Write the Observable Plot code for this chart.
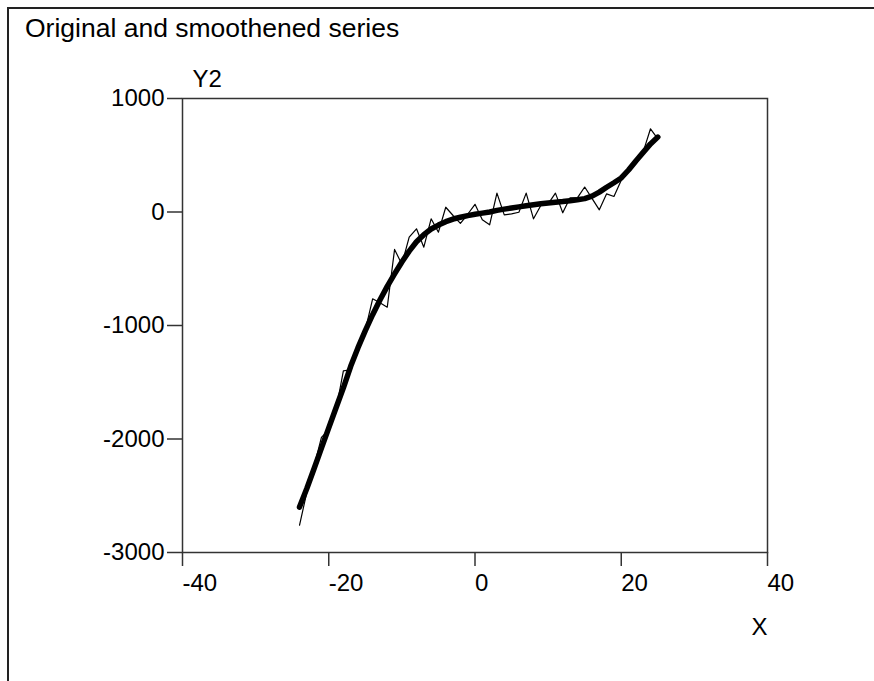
<!DOCTYPE html>
<html>
<head>
<meta charset="utf-8">
<script src="https://cdn.jsdelivr.net/npm/d3@7"></script>
<script src="https://cdn.jsdelivr.net/npm/@observablehq/plot@0.6"></script>
<style>
  html, body { margin: 0; padding: 0; background: #fff; }
  #wrap { position: relative; width: 874px; height: 681px; overflow: hidden; background: #fff; }
  #border { position: absolute; left: 7px; top: 7px; width: 1000px; height: 1000px;
            border-left: 2px solid #222; border-top: 2px solid #222; }
  #title { position: absolute; left: 25px; top: 15px; font-family: "Liberation Sans", Arial, sans-serif;
           font-size: 26.5px; line-height: 26px; color: #000; white-space: nowrap; }
  #chart { position: absolute; left: 0; top: 0; }
</style>
</head>
<body>
<div id="wrap">
  <div id="border"></div>
  <div id="chart"></div>
  <div id="title"></div>
</div>
<script>
const xValues = [-24, -23, -22, -21, -20, -19, -18, -17, -16, -15, -14, -13, -12, -11, -10, -9, -8, -7, -6, -5,
                 -4, -3, -2, -1, 0, 1, 2, 3, 4, 5, 6, 7, 8, 9, 10, 11, 12, 13, 14, 15,
                 16, 17, 18, 19, 20, 21, 22, 23, 24, 25];
const originalY = [-2760, -2470, -2240, -1985, -1920, -1740, -1400, -1390, -1200, -1040, -765, -800, -839, -330, -460, -222, -148, -310, -60, -178,
                   42, -31, -100, -20, 68, -69, -113, 166, -25, -16, -2, 166, -60, 57, 72, 166, -7, 125, 125, 220,
                   120, 19, 160, 137, 280, 370, 450, 530, 733, 645];
const smoothY = [-2600, -2436, -2260, -2080, -1902, -1725, -1549, -1360, -1195, -1045, -905, -775, -655, -545, -440, -345, -262, -200, -150, -115,
                 -85, -62, -46, -32, -20, -10, 0, 14, 25, 35, 45, 55, 64, 72, 80, 86, 92, 100, 108, 118,
                 140, 175, 218, 258, 300, 370, 450, 525, 600, 660];
const xTicks = [-40, -20, 0, 20, 40];
const yTicks = [-3000, -2000, -1000, 0, 1000];
const titleText = "Original and smoothened series";
const xLabel = "X";
const yLabel = "Y2";

const original = xValues.map((x, i) => ({x, y: originalY[i]}));
const smooth = xValues.map((x, i) => ({x, y: smoothY[i]}));

const chart = Plot.plot({
  width: 874,
  height: 681,
  marginLeft: 182,
  marginRight: 107,
  marginTop: 98,
  marginBottom: 129,
  style: {fontFamily: "'Liberation Sans', Arial, sans-serif", fontSize: "24px", color: "#000", background: "transparent", overflow: "visible"},
  x: {domain: [-40, 40]},
  y: {domain: [-3000, 1000]},
  marks: [
    Plot.frame({stroke: "#333", strokeWidth: 1.5}),
    Plot.axisX({ticks: xTicks, tickSize: 14, tickPadding: 7, textAnchor: "start", label: null,
                tickFormat: d => String(d), stroke: "#333", strokeWidth: 1.5}),
    Plot.axisY({ticks: yTicks, tickSize: 15, tickPadding: 3, label: null,
                tickFormat: d => String(d), stroke: "#333", strokeWidth: 1.5}),
    Plot.line(original, {x: "x", y: "y", stroke: "#000", strokeWidth: 1.2}),
    Plot.line(smooth, {x: "x", y: "y", stroke: "#000", strokeWidth: 5.5}),
    Plot.text([yLabel], {frameAnchor: "top-left", text: d => d, dx: 10, dy: -29, textAnchor: "start", fontSize: 24}),
    Plot.text([xLabel], {frameAnchor: "bottom-right", text: d => d, dx: -8, dy: 82, textAnchor: "middle", fontSize: 24})
  ]
});
document.getElementById("chart").appendChild(chart);
document.getElementById("title").textContent = titleText;
</script>
</body>
</html>
